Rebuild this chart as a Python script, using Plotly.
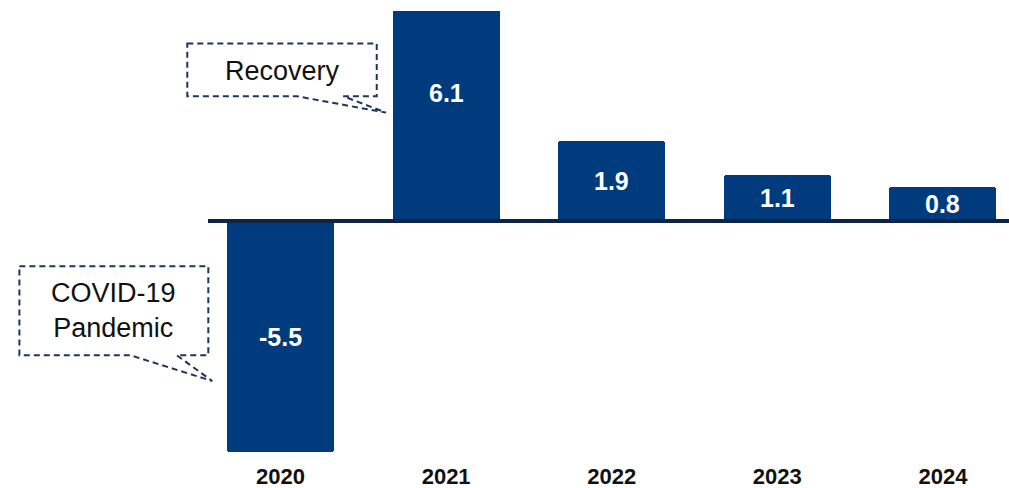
import numpy as np
import plotly.graph_objects as go

# Annual real GDP growth (%)
years = ["2020", "2021", "2022", "2023", "2024"]
growth = [-5.5, 6.1, 1.9, 1.1, 0.8]
value_labels = ["-5.5", "6.1", "1.9", "1.1", "0.8"]

BAR_COLOR = "#003b7e"
AXIS_COLOR = "#0c2544"
CALLOUT_COLOR = "#1b365d"
FONT = "Liberation Sans, Arial, sans-serif"

xpos = np.arange(len(years))

fig = go.Figure()
fig.add_trace(go.Bar(
    x=xpos,
    y=growth,
    width=0.646,
    marker=dict(color=BAR_COLOR, line=dict(width=0), cornerradius=3),
    hoverinfo="skip",
))

# Value labels centred on each bar
for xi, v, lab in zip(xpos, growth, value_labels):
    fig.add_annotation(
        x=xi, y=v / 2, text=f"<b>{lab}</b>", showarrow=False,
        font=dict(family=FONT, size=25, color="white"),
        xanchor="center", yanchor="middle",
    )


def callout_path(x0, x1, y0, y1, b0, b1, tip):
    """Rectangle with a wedge pointer leaving its bottom edge."""
    tx, ty = tip
    return (f"M {x0},{y1} L {x1},{y1} L {x1},{y0} L {b1},{y0} "
            f"L {tx},{ty} L {b0},{y0} L {x0},{y0} Z")


callouts = [
    dict(text="Recovery", box=(-0.563, 0.581, 2.971, 4.226),
         base=(0.098, 0.379), tip=(0.637, 2.58), ty=3.567),
    dict(text="COVID-19<br>Pandemic", box=(-1.577, -0.436, -3.195, -1.076),
         base=(-0.909, -0.627), tip=(-0.412, -3.81), ty=-2.13),
]

for c in callouts:
    x0, x1, y0, y1 = c["box"]
    fig.add_shape(
        type="path",
        path=callout_path(x0, x1, y0, y1, c["base"][0], c["base"][1], c["tip"]),
        xref="x", yref="y",
        line=dict(color=CALLOUT_COLOR, width=2, dash="6px,4px"),
        fillcolor="rgba(255,255,255,0)",
        layer="above",
    )
    fig.add_annotation(
        x=(x0 + x1) / 2, y=c["ty"], text=c["text"], showarrow=False,
        font=dict(family=FONT, size=27, color="#111111"),
        xanchor="center", yanchor="middle", align="center",
    )

# Zero baseline
fig.add_shape(
    type="line", xref="x", yref="y",
    x0=-0.438, x1=4.399, y0=0, y1=0,
    line=dict(color=AXIS_COLOR, width=4),
    layer="above",
)

fig.update_layout(
    width=1009, height=488,
    margin=dict(l=0, r=0, t=11, b=36),
    paper_bgcolor="white", plot_bgcolor="white",
    showlegend=False,
    bargap=0,
    xaxis=dict(
        range=[-1.694, 4.399],
        tickmode="array", tickvals=xpos, ticktext=[f"<b>{y}</b>" for y in years],
        tickfont=dict(family=FONT, size=22, color="#111111"),
        showgrid=False, zeroline=False, showline=False, ticks="",
        ticklabelstandoff=9,
    ),
    yaxis=dict(
        range=[-5.5, 5.0],
        showgrid=False, zeroline=False, showline=False,
        showticklabels=False, ticks="",
    ),
)

fig.write_html("out.html")
